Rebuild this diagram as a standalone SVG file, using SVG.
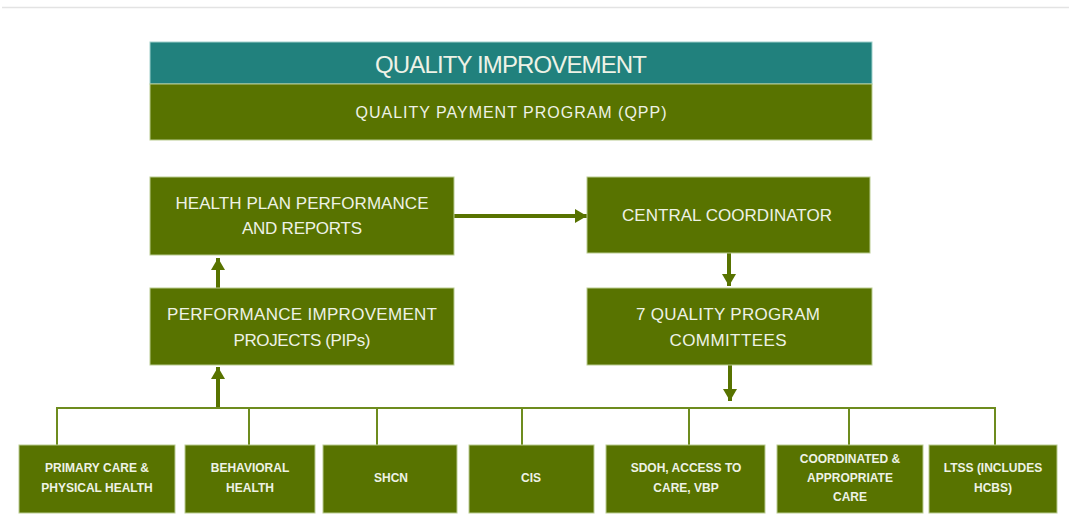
<svg xmlns="http://www.w3.org/2000/svg" width="1069" height="531" viewBox="0 0 1069 531">
<defs>
<style>
.box{fill:#587300;stroke:#b9cc90;stroke-width:1}
.t{font-family:"Liberation Sans",Arial,sans-serif;fill:#eef2e6;text-anchor:middle;dominant-baseline:central}
.m{font-size:17px}
.s{font-size:12px;font-weight:bold}
.conn{stroke:#6e8c1e;stroke-width:2;fill:none}
.arr{stroke:#587300;stroke-width:4;fill:none}
</style>
<marker id="ah" viewBox="0 0 12 14" refX="12" refY="7" markerWidth="12" markerHeight="14" markerUnits="userSpaceOnUse" orient="auto">
<path d="M0,0 L12,7 L0,14 Z" fill="#587300"/>
</marker>
</defs>
<rect width="1069" height="531" fill="#ffffff"/>
<line x1="2" y1="7.5" x2="1069" y2="7.5" stroke="#e3e3e3" stroke-width="1.5"/>

<g id="header">
<rect x="150" y="42" width="722" height="42" fill="#21817d" stroke="#9fd0cc" stroke-width="1"/>
<rect x="150" y="84" width="722" height="56" fill="#587300" stroke="#b9cc90" stroke-width="1"/>
<text class="t" x="511" y="64" font-size="24" textLength="272">QUALITY IMPROVEMENT</text>
<text class="t" x="511" y="112" font-size="16" textLength="311">QUALITY PAYMENT PROGRAM (QPP)</text>
</g>

<g id="connectors">
<line class="arr" x1="454" y1="216" x2="587" y2="216" marker-end="url(#ah)"/>
<line class="arr" x1="218" y1="288" x2="218" y2="258" marker-end="url(#ah)"/>
<line class="arr" x1="218" y1="407" x2="218" y2="367" marker-end="url(#ah)"/>
<line class="arr" x1="729" y1="253" x2="729" y2="286" marker-end="url(#ah)"/>
<line class="arr" x1="730" y1="365" x2="730" y2="401" marker-end="url(#ah)"/>
<path class="conn" d="M57,445 V408 H995 V445"/>
<line class="conn" x1="249" y1="408" x2="249" y2="445"/>
<line class="conn" x1="377" y1="408" x2="377" y2="445"/>
<line class="conn" x1="522" y1="408" x2="522" y2="445"/>
<line class="conn" x1="689" y1="408" x2="689" y2="445"/>
<line class="conn" x1="849" y1="408" x2="849" y2="445"/>
</g>

<g id="health-plan">
<rect class="box" x="150" y="177" width="304" height="78"/>
<text class="t m" x="302" y="203" textLength="253">HEALTH PLAN PERFORMANCE</text>
<text class="t m" x="302" y="228" textLength="120">AND REPORTS</text>
</g>
<g id="pips">
<rect class="box" x="150" y="288" width="304" height="77"/>
<text class="t m" x="302" y="314" textLength="270">PERFORMANCE IMPROVEMENT</text>
<text class="t m" x="302" y="340" textLength="137">PROJECTS (PIPs)</text>
</g>
<g id="central">
<rect class="box" x="587" y="177" width="283" height="76"/>
<text class="t m" x="727" y="215" textLength="210">CENTRAL COORDINATOR</text>
</g>
<g id="committees">
<rect class="box" x="587" y="288" width="285" height="77"/>
<text class="t m" x="728" y="314" textLength="184">7 QUALITY PROGRAM</text>
<text class="t m" x="728" y="340" textLength="117">COMMITTEES</text>
</g>

<g id="primary">
<rect class="box" x="19" y="445" width="156" height="68"/>
<text class="t s" x="97" y="468">PRIMARY CARE &amp;</text>
<text class="t s" x="97" y="488">PHYSICAL HEALTH</text>
</g>
<g id="behavioral">
<rect class="box" x="185" y="445" width="130" height="68"/>
<text class="t s" x="250" y="468">BEHAVIORAL</text>
<text class="t s" x="250" y="488">HEALTH</text>
</g>
<g id="shcn">
<rect class="box" x="323" y="445" width="134" height="68"/>
<text class="t s" x="391" y="478">SHCN</text>
</g>
<g id="cis">
<rect class="box" x="469" y="445" width="125" height="68"/>
<text class="t s" x="531" y="478">CIS</text>
</g>
<g id="sdoh">
<rect class="box" x="606" y="445" width="159" height="68"/>
<text class="t s" x="686" y="468">SDOH, ACCESS TO</text>
<text class="t s" x="686" y="488">CARE, VBP</text>
</g>
<g id="coordinated">
<rect class="box" x="777" y="445" width="146" height="68"/>
<text class="t s" x="850" y="459">COORDINATED &amp;</text>
<text class="t s" x="850" y="478">APPROPRIATE</text>
<text class="t s" x="850" y="497">CARE</text>
</g>
<g id="ltss">
<rect class="box" x="929" y="445" width="128" height="68"/>
<text class="t s" x="993" y="468">LTSS (INCLUDES</text>
<text class="t s" x="993" y="488">HCBS)</text>
</g>
</svg>
